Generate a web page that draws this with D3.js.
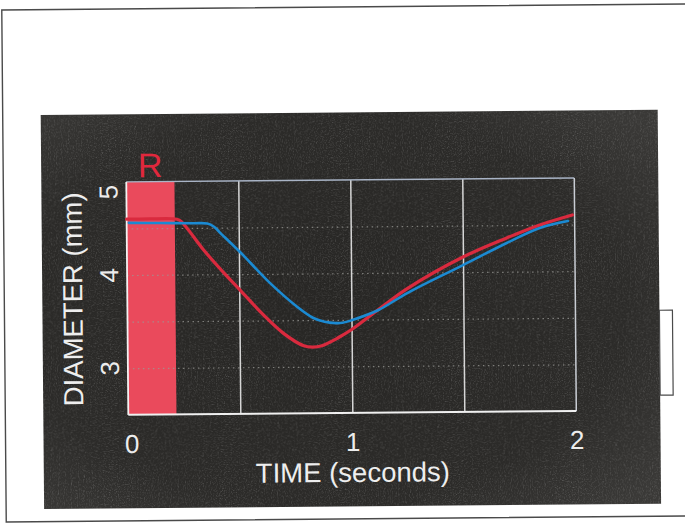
<!DOCTYPE html>
<html>
<head>
<meta charset="utf-8">
<script src="https://cdn.jsdelivr.net/npm/d3@7"></script>
<style>
  html, body { margin: 0; padding: 0; background: #ffffff; }
  svg { display: block; }
  text { font-family: "Liberation Sans", Arial, sans-serif; }
</style>
</head>
<body>
<svg id="chart" width="685" height="527"></svg>
<script>
// Vessel diameter over one cycle, two traces, with the "R" window shaded.
const redTime     = [0, 0.10, 0.20, 0.235, 0.265, 0.34, 0.43, 0.505, 0.607, 0.696, 0.786, 0.825, 0.862, 0.938, 1.004, 1.121, 1.25, 1.5, 1.696, 1.844, 1.99];
const redDiameter = [4.60, 4.60, 4.60, 4.585, 4.51, 4.27, 4.02, 3.825, 3.56, 3.36, 3.225, 3.21, 3.22, 3.305, 3.40, 3.607, 3.828, 4.162, 4.363, 4.499, 4.603];

const blueTime     = [0.01, 0.15, 0.30, 0.36, 0.39, 0.415, 0.505, 0.638, 0.759, 0.83, 0.88, 0.93, 0.96, 1.004, 1.121, 1.25, 1.5, 1.696, 1.844, 1.97];
const blueDiameter = [4.56, 4.555, 4.55, 4.545, 4.51, 4.45, 4.237, 3.90, 3.642, 3.522, 3.48, 3.465, 3.468, 3.497, 3.602, 3.781, 4.076, 4.309, 4.467, 4.539];

const rWindow = [0, 0.215];           // shaded "R" interval (seconds)
const xTickValues = [0, 1, 2];
const yTickValues = [3, 4, 5];
const xGridValues = [0.5, 1, 1.5];
const yGridValues = [3, 3.5, 4, 4.5];
const xTitle = "TIME (seconds)";
const yTitle = "DIAMETER (mm)";
const windowLabel = "R";

const svg = d3.select("#chart");
const defs = svg.append("defs");

// panel shading and grain
const grad = defs.append("radialGradient").attr("id", "panelGrad")
  .attr("cx", "45%").attr("cy", "50%").attr("r", "70%");
grad.append("stop").attr("offset", "0%").attr("stop-color", "#272624");
grad.append("stop").attr("offset", "70%").attr("stop-color", "#2c2b29");
grad.append("stop").attr("offset", "100%").attr("stop-color", "#3a3937");

const noise = defs.append("filter").attr("id", "grain")
  .attr("x", 0).attr("y", 0).attr("width", "100%").attr("height", "100%");
noise.append("feTurbulence").attr("type", "fractalNoise")
  .attr("baseFrequency", 0.85).attr("numOctaves", 2).attr("seed", 3);
noise.append("feColorMatrix").attr("type", "matrix")
  .attr("values", "0 0 0 0 1  0 0 0 0 1  0 0 0 0 1  0.5 0.5 0.5 0 -0.72");

const root = svg.append("g").attr("transform", "rotate(-0.5 342 263)");

// page frame
root.append("rect")
  .attr("x", 4).attr("y", 7).attr("width", 720).attr("height", 512)
  .attr("fill", "none").attr("stroke", "#4a4a4a").attr("stroke-width", 1.4);

// dark panel
const panel = { x: 42, y: 112.5, w: 617, h: 394 };
root.append("rect")
  .attr("x", panel.x).attr("y", panel.y).attr("width", panel.w).attr("height", panel.h)
  .attr("fill", "url(#panelGrad)");
root.append("rect")
  .attr("x", panel.x).attr("y", panel.y).attr("width", panel.w).attr("height", panel.h)
  .attr("filter", "url(#grain)").attr("opacity", 0.5);

// small side box
root.append("rect")
  .attr("x", 659).attr("y", 313).attr("width", 13).attr("height", 85)
  .attr("fill", "#ffffff").attr("stroke", "#4a4a4a").attr("stroke-width", 1.2);

// plot area
const plotLeft = 127, plotRight = 575, plotTop = 180, plotBottom = 413;
const x = d3.scaleLinear().domain([0, 2]).range([plotLeft, plotRight]);
const y = d3.scaleLinear().domain([2.5, 5]).range([plotBottom, plotTop]);

const plot = root.append("g");

// R window
plot.append("rect")
  .attr("x", x(rWindow[0])).attr("y", y(5))
  .attr("width", x(rWindow[1]) - x(rWindow[0]))
  .attr("height", y(2.5) - y(5))
  .attr("fill", "#ea4a5c");

// horizontal dotted grid
const yGrid = plot.append("g")
  .attr("transform", `translate(${plotLeft},0)`)
  .call(d3.axisLeft(y).tickValues(yGridValues).tickSize(-(plotRight - plotLeft)).tickFormat(""));
yGrid.select(".domain").remove();
yGrid.selectAll("line")
  .attr("stroke", "#9a9a96").attr("stroke-width", 1.2)
  .attr("stroke-dasharray", "1.5,3.5").attr("opacity", 0.75);

// vertical solid grid
const xGrid = plot.append("g")
  .attr("transform", `translate(0,${plotBottom})`)
  .call(d3.axisBottom(x).tickValues(xGridValues).tickSize(-(plotBottom - plotTop)).tickFormat(""));
xGrid.select(".domain").remove();
xGrid.selectAll("line").attr("stroke", "#d6d6d6").attr("stroke-width", 1.5);

// frame edges
plot.append("line").attr("x1", plotLeft).attr("x2", plotRight).attr("y1", plotTop).attr("y2", plotTop)
  .attr("stroke", "#a9b4c6").attr("stroke-width", 1.4);
plot.append("line").attr("x1", plotRight).attr("x2", plotRight).attr("y1", plotTop).attr("y2", plotBottom)
  .attr("stroke", "#c9cdd4").attr("stroke-width", 1.5);
plot.append("line").attr("x1", plotLeft).attr("x2", plotLeft).attr("y1", plotTop).attr("y2", plotBottom)
  .attr("stroke", "#f2f2f2").attr("stroke-width", 1.8);
plot.append("line").attr("x1", plotLeft).attr("x2", plotRight).attr("y1", plotBottom).attr("y2", plotBottom)
  .attr("stroke", "#f0f0f0").attr("stroke-width", 2);

// traces
const line = d3.line().x(d => x(d[0])).y(d => y(d[1])).curve(d3.curveCatmullRom.alpha(0.5));
const redData = redTime.map((t, i) => [t, redDiameter[i]]);
const blueData = blueTime.map((t, i) => [t, blueDiameter[i]]);

plot.append("path").datum(redData).attr("d", line)
  .attr("fill", "none").attr("stroke", "#d92a3e").attr("stroke-width", 3.2)
  .attr("stroke-linecap", "round").attr("stroke-linejoin", "round");
plot.append("path").datum(blueData).attr("d", line)
  .attr("fill", "none").attr("stroke", "#1b8ad2").attr("stroke-width", 2.6)
  .attr("stroke-linecap", "round").attr("stroke-linejoin", "round");

// x tick labels
const xAxis = plot.append("g")
  .attr("transform", `translate(0,${plotBottom})`)
  .call(d3.axisBottom(x).tickValues(xTickValues).tickSize(0).tickFormat(d3.format("d")));
xAxis.select(".domain").remove();
xAxis.selectAll("text")
  .attr("y", 38).attr("dy", 0)
  .attr("font-size", 26).attr("fill", "#ececec")
  .attr("dx", d => d === 0 ? 3 : 0)
  .style("font-family", "'Liberation Sans', Arial, sans-serif");

// y tick labels (rotated)
const yAxis = plot.append("g")
  .attr("transform", `translate(${plotLeft},0)`)
  .call(d3.axisLeft(y).tickValues(yTickValues).tickSize(0).tickFormat(d3.format("d")));
yAxis.select(".domain").remove();
yAxis.selectAll(".tick")
  .attr("transform", d => `translate(0,${Math.max(y(d), plotTop + 10)})`);
yAxis.selectAll("text")
  .attr("x", 0).attr("y", 0).attr("dy", 0)
  .attr("transform", "translate(-9,0) rotate(-90)")
  .attr("text-anchor", "middle")
  .attr("font-size", 26).attr("fill", "#ececec")
  .style("font-family", "'Liberation Sans', Arial, sans-serif");

// axis titles
root.append("text")
  .attr("x", (plotLeft + plotRight) / 2).attr("y", 482)
  .attr("text-anchor", "middle")
  .attr("font-size", 27.5).attr("fill", "#eeeeee")
  .text(xTitle);

root.append("text")
  .attr("transform", "translate(82,297) rotate(-90)")
  .attr("text-anchor", "middle")
  .attr("font-size", 27.5).attr("fill", "#eeeeee")
  .text(yTitle);

// window label
root.append("text")
  .attr("x", (x(rWindow[0]) + x(rWindow[1])) / 2).attr("y", 175.5)
  .attr("text-anchor", "middle")
  .attr("font-size", 34).attr("fill", "#e0283d")
  .text(windowLabel);
</script>
</body>
</html>
